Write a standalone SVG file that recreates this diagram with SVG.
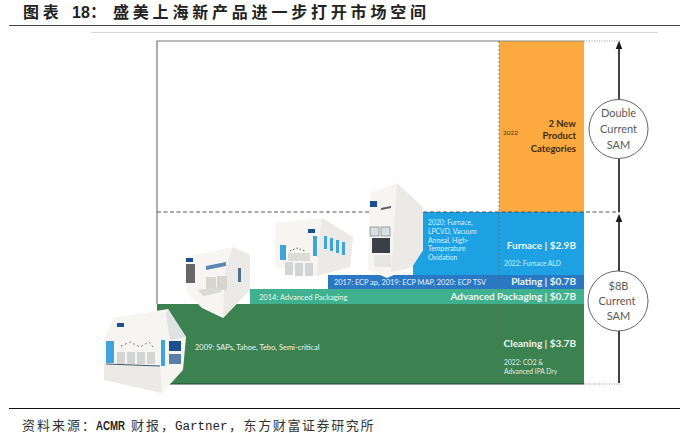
<svg xmlns="http://www.w3.org/2000/svg" width="689" height="433" viewBox="0 0 689 433">
<style>
.c{font-family:Lato,"Open Sans",sans-serif}
.w{fill:#eef6f0}
.big{font-size:10px;font-weight:700;text-anchor:end}
.cj{font-family:"Noto Sans CJK SC",sans-serif}
.m{fill:#f6f5f1}
.side{fill:#ebeae6}
.b{fill:#3fa3dc}
.n{fill:#1f4f8f}
.g{fill:#d2d5d4}
.lab{font-size:11px;fill:#5a5a5a;text-anchor:middle}
</style>
<defs>
<marker id="ah" markerWidth="5" markerHeight="5" refX="2.500" refY="2.500" orient="auto-start-reverse"><path d="M0,0.500L5,2.500L0,4.500z" fill="#1a1a1a"/></marker>
<filter id="soft" x="-5%" y="-5%" width="110%" height="110%"><feGaussianBlur stdDeviation=".4"/></filter>
</defs>
<rect width="689" height="433" fill="#fff"/>
<g id="header">
<text class="cj" x="23" y="18" font-size="16" font-weight="700" fill="#222" letter-spacing="3.800">图表</text>
<text x="72" y="18" font-family="Liberation Sans,sans-serif" font-size="16" font-weight="700" fill="#222">18</text>
<text class="cj" x="90" y="18" font-size="16" font-weight="700" fill="#222">：</text>
<text class="cj" x="113" y="18" font-size="16" font-weight="700" fill="#222" letter-spacing="3.800">盛美上海新产品进一步打开市场空间</text>
<line x1="9" y1="25.500" x2="680" y2="25.500" stroke="#444" stroke-width="1.200"/>
<line x1="91" y1="32.500" x2="658" y2="32.500" stroke="#d8d8dc" stroke-width="1"/>
</g>
<g id="footer">
<line x1="9" y1="408.500" x2="680" y2="408.500" stroke="#111" stroke-width="1.200"/>
<text class="cj" x="22" y="430" font-size="13" fill="#333" letter-spacing="2">资料来源</text>
<text class="cj" x="82" y="430" font-size="13" fill="#333">：</text>
<text x="96" y="430" font-family="Liberation Sans,sans-serif" font-size="12" font-weight="700" fill="#222" textLength="29" lengthAdjust="spacingAndGlyphs">ACMR</text>
<text class="cj" x="131" y="430" font-size="13" fill="#333" letter-spacing="2">财报，</text>
<text x="175" y="430" font-family="Liberation Mono,monospace" font-size="12.500" fill="#222">Gartner</text>
<text class="cj" x="229" y="430" font-size="13" fill="#333" letter-spacing="1.600">，东方财富证券研究所</text>
</g>
<g id="bands">
<path d="M157 304H584V384H157z" fill="#3b8250"/>
<rect x="250" y="289" width="334" height="15" fill="#3fb18f"/>
<rect x="328" y="275" width="256" height="14" fill="#2a78c4"/>
<path d="M423 212H584V275H413V250z" fill="#1ea1e2"/>
<rect x="499" y="41" width="85" height="171" fill="#fcaa40"/>
</g>
<g id="frame" fill="none">
<path d="M157 304V41H499" stroke="#777" stroke-width="1.200"/>
<line x1="499" y1="41" x2="584" y2="41" stroke="#8a8a80" stroke-width="1"/>
<line x1="157" y1="384" x2="584" y2="384" stroke="#24452f" stroke-width="1"/>
</g>
<g id="connectors" fill="none">
<line x1="157" y1="212" x2="620" y2="212" stroke="#444" stroke-width=".9" stroke-dasharray="4 2.500"/>
<line x1="499" y1="41" x2="499" y2="384" stroke="#6b6b50" stroke-width="1" stroke-dasharray="2 2" opacity=".75"/>
<line x1="584" y1="41" x2="621" y2="41" stroke="#777" stroke-width=".8" stroke-dasharray="1 1.500"/>
<line x1="584" y1="384" x2="621" y2="384" stroke="#777" stroke-width=".8" stroke-dasharray="1 1.500"/>
<line x1="619" y1="45" x2="619" y2="212" stroke="#222" stroke-width="1.700" marker-start="url(#ah)"/>
<line x1="619" y1="218" x2="619" y2="383" stroke="#222" stroke-width="1.700" marker-start="url(#ah)"/>
</g>
<g id="machine-cleaning" filter="url(#soft)">
<path class="m" d="M113 318L168 309L186 337L183 370L162 393L104 380V340Z"/>
<path class="side" d="M104 364L160 366L162 393L104 380Z"/>
<path fill="#dfe2e2" d="M168 309L186 337L170 340L166 314Z"/>
<rect x="106" y="341" width="8" height="22" class="b"/>
<rect x="161" y="340" width="4" height="26" class="b"/>
<rect x="169" y="341" width="12" height="10" class="n"/>
<rect x="169" y="354" width="12" height="10" fill="#5a7fa6"/>
<rect x="117" y="323" width="7" height="4" class="n"/>
<g class="g"><rect x="117" y="352" width="8" height="12"/><rect x="127" y="352" width="8" height="12"/><rect x="137" y="352" width="8" height="12"/><rect x="147" y="352" width="8" height="12"/></g>
<path d="M121 346L130 342L140 347L149 342L153 347" fill="none" stroke="#555" stroke-width="1" stroke-dasharray="1.500 3"/>
<line x1="106" y1="364" x2="160" y2="366" stroke="#40586a" stroke-width="1"/>
</g>
<g id="machine-packaging" filter="url(#soft)">
<path class="m" d="M185 257L233 247L250 255V290L223 318L202 308L187 293Z"/>
<path class="side" d="M233 247L250 255V290L223 318L225 270Z"/>
<rect x="186" y="264" width="9" height="19" fill="#666"/>
<rect x="186" y="258" width="7" height="4" class="n"/>
<path d="M206 266L226 262V266L206 270z" fill="#5d86b5"/>
<rect x="206" y="277" width="10" height="14" fill="#d6d6cf"/>
<rect x="217" y="276" width="10" height="14" fill="#d6d6cf"/>
<path d="M198 290L218 287L222 292L203 296z" fill="#dadad4"/>
<rect x="238" y="268" width="3" height="14" fill="#50708f"/>
</g>
<g id="machine-plating" filter="url(#soft)">
<path class="m" d="M275 223L322 218L353 237L350 267L317 276L275 267Z"/>
<path class="side" d="M322 218L353 237L350 267L317 276L319 240Z"/>
<rect x="280" y="245" width="6" height="15" class="b"/>
<rect x="313" y="236" width="4" height="20" class="b"/>
<rect x="308" y="229" width="7" height="4" class="n"/>
<path d="M290 251L297 248L305 251" fill="none" stroke="#555" stroke-dasharray="1.500 2"/>
<g class="g"><rect x="285" y="262" width="8" height="13"/><rect x="295" y="263" width="8" height="13"/><rect x="305" y="263" width="8" height="13"/></g>
<g class="b"><rect x="324" y="236" width="3" height="13"/><rect x="330" y="238" width="3" height="13"/><rect x="336" y="240" width="3" height="13"/><rect x="342" y="242" width="3" height="13"/></g>
<rect x="288" y="253" width="22" height="8" fill="#dcdcd6"/>
</g>
<g id="machine-furnace" filter="url(#soft)">
<path class="m" d="M370 193L397 183L423 207V250L412 267L387 278L368 270Z"/>
<path class="side" d="M397 183L423 207V250L412 267L391 272Z"/>
<rect x="370" y="201" width="7" height="6" class="n"/>
<path d="M381 208L391 206V208L381 210z" fill="#5a5f66"/>
<rect x="370" y="227" width="9" height="9" fill="#d6e0e2" stroke="#556" stroke-width=".5"/>
<rect x="381" y="227" width="9" height="9" fill="#d6e0e2" stroke="#556" stroke-width=".5"/>
<rect x="372" y="238" width="18" height="15" fill="#3a4046"/>
<rect x="374" y="255" width="17" height="12" fill="#e6e6e2"/>
</g>
<g id="band-labels">
<text class="c" x="195" y="350" fill="#eef6f0" font-size="7.500">2009: SAPs, Tahoe, Tebo, Semi-critical</text>
<text class="c" x="259" y="300" fill="#e8f8f0" font-size="7.500">2014: Advanced Packaging</text>
<text class="c" x="334" y="285" fill="#e8f2fb" font-size="7.400">2017: ECP ap, 2019: ECP MAP, 2020: ECP TSV</text>
<g class="c" fill="#d8f0fb" font-size="6.800"><text x="428" y="225">2020: Furnace,</text><text x="428" y="234">LPCVD, Vacuum</text><text x="428" y="243">Anneal, High-</text><text x="428" y="251">Temperature</text><text x="428" y="260">Oxidation</text></g>
<text class="c" x="503" y="135" fill="#4a3310" font-size="6.500">2022</text>
<g class="c big" fill="#3d2a0a" style="font-size:9.500px"><text x="576" y="127">2 New</text><text x="576" y="139">Product</text><text x="576" y="152">Categories</text></g>
<g class="c big w"><text x="576" y="249">Furnace | $2.9B</text><text x="576" y="285">Plating | $0.7B</text><text x="576" y="300">Advanced Packaging | $0.7B</text><text x="576" y="347">Cleaning | $3.7B</text></g>
<g class="c" font-size="6.700" fill="#e0eee6"><text x="504" y="266" fill="#d8f0fb">2022: Furnace ALD</text><text x="504" y="365">2022: CO2 &amp;</text><text x="504" y="374">Advanced IPA Dry</text></g>
</g>
<g id="sam-double"><circle cx="618.500" cy="129" r="29.500" fill="#fff" stroke="#555" stroke-width=".9"/><g class="c lab"><text x="618.500" y="117">Double</text><text x="618.500" y="133">Current</text><text x="618.500" y="149">SAM</text></g></g>
<g id="sam-current"><circle cx="618" cy="301" r="30" fill="#fff" stroke="#555" stroke-width=".9"/><g class="c lab"><text x="618.500" y="290">$8B</text><text x="617" y="305">Current</text><text x="618.500" y="320">SAM</text></g></g>
</svg>
